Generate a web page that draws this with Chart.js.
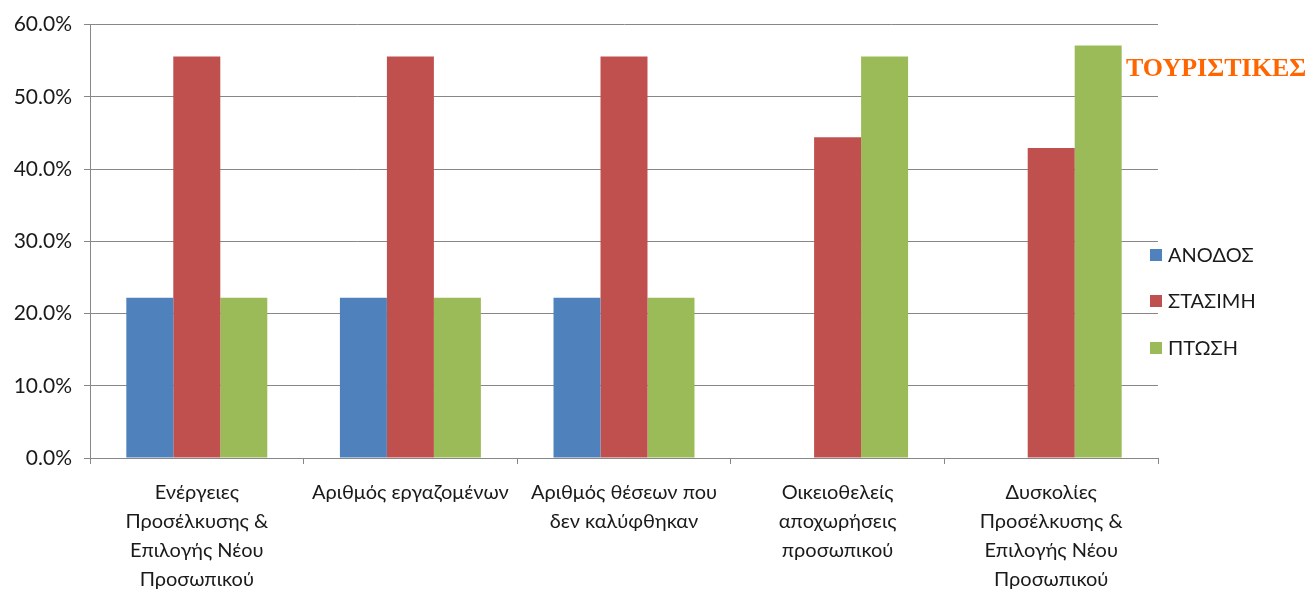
<!DOCTYPE html>
<html lang="el">
<head>
<meta charset="UTF-8">
<title>ΤΟΥΡΙΣΤΙΚΕΣ</title>
<script src="https://cdn.jsdelivr.net/npm/chart.js"></script>
<style>
  html, body { margin: 0; padding: 0; background: #fff; }
  #wrap { width: 1312px; height: 596px; position: relative; }
</style>
</head>
<body>
<div id="wrap"><canvas id="chart"></canvas></div>
<script>
// categories (multi-line labels)
const categories = [
  ['Ενέργειες', 'Προσέλκυσης &', 'Επιλογής Νέου', 'Προσωπικού'],
  ['Αριθμός εργαζομένων'],
  ['Αριθμός θέσεων που', 'δεν καλύφθηκαν'],
  ['Οικειοθελείς', 'αποχωρήσεις', 'προσωπικού'],
  ['Δυσκολίες', 'Προσέλκυσης &', 'Επιλογής Νέου', 'Προσωπικού']
];
const seriesNames = ['ΑΝΟΔΟΣ', 'ΣΤΑΣΙΜΗ', 'ΠΤΩΣΗ'];
const anodos   = [22.2, 22.2, 22.2, 0, 0];
const stasimi  = [55.6, 55.6, 55.6, 44.4, 42.9];
const ptosi    = [22.2, 22.2, 22.2, 55.6, 57.1];
const yTicks   = [0, 10, 20, 30, 40, 50, 60];
const colors   = ['#4F81BD', '#C0504D', '#9BBB59'];
const titleText = 'ΤΟΥΡΙΣΤΙΚΕΣ';

const FONT = 'Lato, "Open Sans", sans-serif';
const GRID = '#878787';

// legend + side title drawn by hand next to the plot
const sideDecor = {
  id: 'sideDecor',
  afterDraw(chart) {
    const ctx = chart.ctx;
    ctx.save();
    ctx.font = 'bold 26px "Liberation Serif", "DejaVu Serif", serif';
    ctx.fillStyle = '#FF6600';
    ctx.textBaseline = 'middle';
    ctx.textAlign = 'left';
    ctx.fillText(titleText, 1126, 69);

    ctx.font = '20px ' + FONT;
    const ys = [255, 301, 348];
    chart.data.datasets.forEach((ds, i) => {
      ctx.fillStyle = ds.backgroundColor;
      ctx.fillRect(1150, ys[i] - 6, 12, 12);
      ctx.fillStyle = '#1a1a1a';
      ctx.fillText(ds.label, 1168, ys[i] + 1);
    });
    ctx.restore();
  }
};

new Chart(document.getElementById('chart'), {
  type: 'bar',
  data: {
    labels: categories,
    datasets: [
      { label: seriesNames[0], data: anodos, backgroundColor: colors[0] },
      { label: seriesNames[1], data: stasimi, backgroundColor: colors[1] },
      { label: seriesNames[2], data: ptosi, backgroundColor: colors[2] }
    ]
  },
  options: {
    responsive: true,
    maintainAspectRatio: false,
    animation: false,
    layout: { padding: { top: 19, right: 154, left: 0, bottom: 0 } },
    datasets: {
      bar: { categoryPercentage: 0.66, barPercentage: 1.0, borderWidth: 0 }
    },
    plugins: {
      legend: { display: false },
      tooltip: { enabled: false }
    },
    scales: {
      x: {
        grid: {
          offset: true,
          drawOnChartArea: false,
          drawTicks: true,
          tickLength: 6,
          color: GRID
        },
        border: { color: GRID, width: 1 },
        ticks: {
          maxRotation: 0,
          minRotation: 0,
          autoSkip: false,
          padding: 14,
          color: '#1a1a1a',
          font: { family: FONT, size: 20, lineHeight: 1.45 }
        },
        afterFit(scale) { scale.height = 138; }
      },
      y: {
        min: 0,
        max: 60,
        afterBuildTicks(scale) { scale.ticks = yTicks.map(v => ({ value: v })); },
        grid: { color: GRID, lineWidth: 1, tickLength: 6 },
        border: { color: GRID, width: 1 },
        ticks: {
          padding: 12,
          color: '#1a1a1a',
          font: { family: FONT, size: 21 },
          callback: v => v.toFixed(1) + '%'
        },
        afterFit(scale) { scale.width = 90; }
      }
    }
  },
  plugins: [sideDecor]
});
</script>
</body>
</html>
